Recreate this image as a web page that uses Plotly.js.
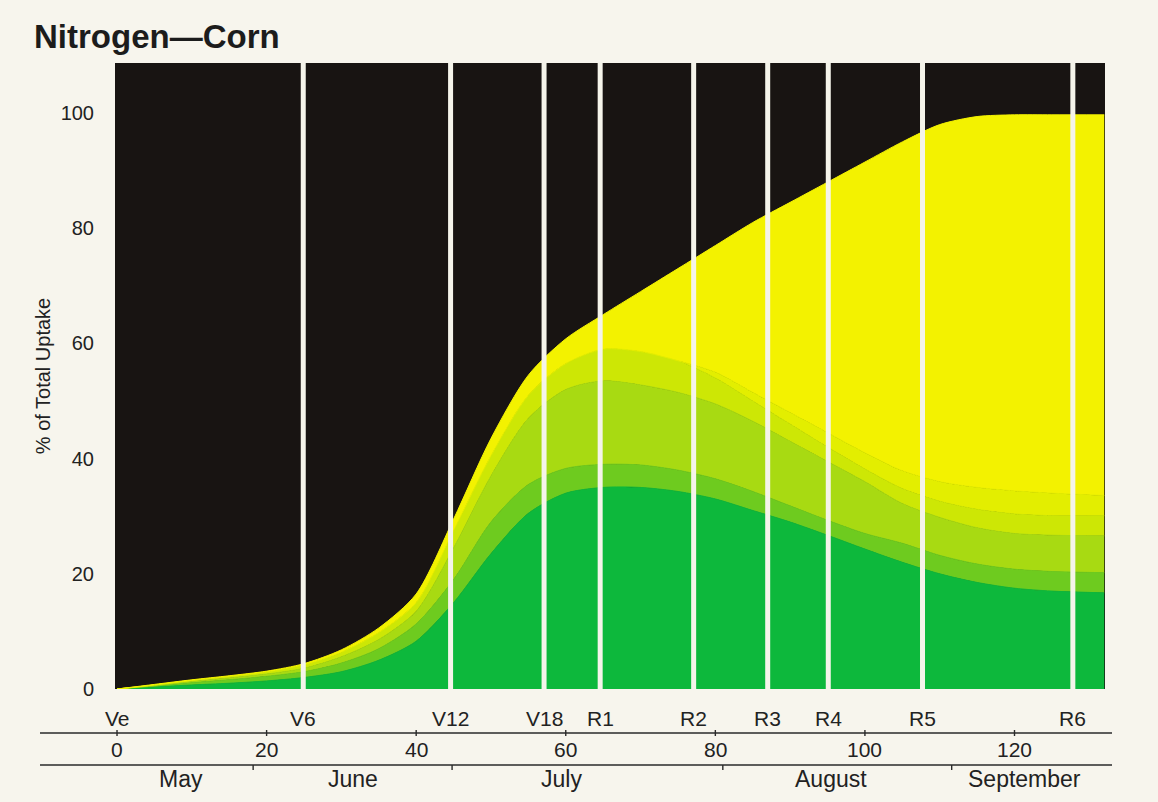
<!DOCTYPE html>
<html>
<head>
<meta charset="utf-8">
<script src="https://cdn.plot.ly/plotly-3.0.1.min.js"></script>
<style>
html,body{margin:0;padding:0;background:#f7f5ed;}
#chart{width:1158px;height:802px;}
</style>
</head>
<body>
<div id="chart"></div>
<script>
// Days after emergence
const days = [0,5,10,15,20,25,30,35,40,45,50,55,60,65,70,75,80,85,90,95,100,105,110,115,120,125,132];
// Cumulative boundaries (% of total N uptake), bottom layer to top
const darkGreenTop   = [0,0.35,0.7,1.0,1.4,2.0,3.0,5.0,8.3,15,23.5,30.5,34,35,35,34.3,33,31,29,26.7,24.3,22,20,18.5,17.5,17,16.7];
const mediumGreenTop = [0,0.5,1.1,1.6,2.2,3.0,4.5,7.0,11.3,19,29,35.5,38.3,39,38.9,38,36.5,34.3,31.8,29.3,27,25.3,23.2,21.7,20.8,20.4,20.2];
const lightGreenTop  = [0,0.6,1.3,1.9,2.6,3.6,5.6,8.6,13.5,24.5,37,47,52,53.5,52.8,51.5,49.5,46.5,43,39.5,36,32.2,29.8,28,27,26.7,26.6];
const yellowGreenTop = [0,0.7,1.5,2.2,3.0,4.2,6.4,9.8,15,27.5,40.5,51,56.5,59,58.6,57,54,50,46,42,38.2,34.8,32.6,31.2,30.4,30.1,30.1];
const paleYellowTop  = [0,0.7,1.5,2.2,3.0,4.2,6.4,9.8,15,27.5,40.5,51,56.5,59,58.6,57,55,51.5,48,44.5,41,37.9,36,35,34.4,34,33.6];
const totalUptake    = [0,0.8,1.6,2.3,3.1,4.4,6.8,10.6,16.5,29.5,43.5,54.5,60.8,65,69,73,77,81,84.5,88,91.5,95,98,99.4,99.7,99.7,99.7];

// Growth stages
const stageNames = ['Ve','V6','V12','V18','R1','R2','R3','R4','R5','R6'];
const stageDays  = [0,24.9,44.6,57.1,64.6,77.1,87,95.1,107.7,127.8];
// Day axis
const dayTicks = [0,20,40,60,80,100,120];
// Months
const monthNames = ['May','June','July','August','September'];
const monthLabelDays = [8.6,31.6,59.4,95.4,121.4];
const monthBoundaryDays = [18.2,44.8,81,111.6];
// Y ticks
const yTicks = [0,20,40,60,80,100];

const layerSeries = [darkGreenTop, mediumGreenTop, lightGreenTop, yellowGreenTop, paleYellowTop, totalUptake];
const layerColors = ['#0db83c','#6ecb1f','#a8da12','#cde705','#e3ee00','#f3f200'];

const traces = layerSeries.map((ys, i) => ({
  type: 'scatter',
  mode: 'lines',
  x: days,
  y: ys,
  fill: i === 0 ? 'tozeroy' : 'tonexty',
  fillcolor: layerColors[i],
  line: {width: 1, shape: 'spline', smoothing: 0.8, color: layerColors[i]},
  hoverinfo: 'skip',
  showlegend: false
}));

const FONT = 'Liberation Sans, Arial, Helvetica, sans-serif';
const TXT = '#222222';
const plotTop = 63, plotBottom = 689;
const plotH = plotBottom - plotTop;
const py = px => (plotBottom - px) / plotH; // pixel y -> paper y
const plotL = 115, plotR = 1105, plotW = plotR - plotL;
const pxx = px => (px - plotL) / plotW;

const shapes = [];
stageDays.forEach(d => {
  if (d > 0) shapes.push({type:'line', xref:'x', yref:'paper', x0:d, x1:d, y0:0, y1:1,
    line:{color:'#f5f4ea', width:5}, layer:'above'});
});
const line1 = py(733), line2 = py(765);
shapes.push({type:'line', xref:'paper', yref:'paper', x0:pxx(40), x1:pxx(1112), y0:line1, y1:line1, line:{color:'#2a2a2a', width:1.6}});
shapes.push({type:'line', xref:'paper', yref:'paper', x0:pxx(40), x1:pxx(1112), y0:line2, y1:line2, line:{color:'#2a2a2a', width:1.6}});
dayTicks.forEach(d => shapes.push({type:'line', xref:'x', yref:'paper', x0:d, x1:d, y0:py(730), y1:py(736), line:{color:'#2a2a2a', width:1.4}}));
monthBoundaryDays.forEach(d => shapes.push({type:'line', xref:'x', yref:'paper', x0:d, x1:d, y0:line2, y1:py(770), line:{color:'#2a2a2a', width:1.4}}));

const annotations = [];
stageNames.forEach((s, i) => annotations.push({xref:'x', yref:'paper', x:stageDays[i], y:py(718), text:s, showarrow:false,
  xanchor:'center', yanchor:'middle', font:{family:FONT, size:21, color:TXT}}));
dayTicks.forEach(d => annotations.push({xref:'x', yref:'paper', x:d, y:py(749), text:String(d), showarrow:false,
  xanchor:'center', yanchor:'middle', font:{family:FONT, size:21, color:TXT}}));
monthNames.forEach((m, i) => annotations.push({xref:'x', yref:'paper', x:monthLabelDays[i], y:py(779), text:m, showarrow:false,
  xanchor:'center', yanchor:'middle', font:{family:FONT, size:23, color:TXT}}));

const layout = {
  width: 1158, height: 802,
  paper_bgcolor: '#f7f5ed',
  plot_bgcolor: '#181412',
  margin: {l: plotL, r: 1158 - plotR, t: plotTop, b: 802 - plotBottom, pad: 0},
  title: {text: '<b>Nitrogen\u2014Corn</b>', x: 34/1158, xref: 'container', xanchor: 'left',
          y: 1 - 36/802, yref: 'container', yanchor: 'middle',
          font: {family: FONT, size: 33, color: '#1c1c1c'}},
  xaxis: {range: [-0.27, 132.1], showticklabels: false, showgrid: false, zeroline: false, showline: false, ticks: '', fixedrange: true},
  yaxis: {range: [0, 108.7], tickvals: yTicks, ticktext: yTicks.map(String), ticks: '', ticklabelstandoff: 20,
          showgrid: false, zeroline: false, showline: false, tickfont: {family: FONT, size: 20, color: TXT},
          title: {text: '% of Total Uptake', standoff: 4, font: {family: FONT, size: 20, color: TXT}}, fixedrange: true},
  shapes: shapes,
  annotations: annotations,
  showlegend: false
};

Plotly.newPlot('chart', traces, layout, {displayModeBar: false, staticPlot: true});
</script>
</body>
</html>
